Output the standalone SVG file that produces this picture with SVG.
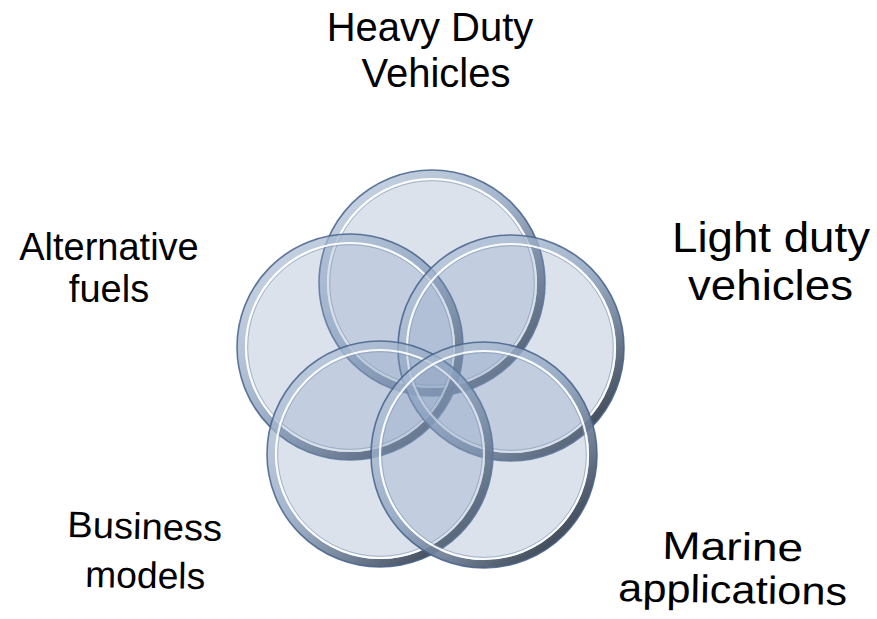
<svg xmlns="http://www.w3.org/2000/svg" width="877" height="619" viewBox="0 0 877 619">
<defs>
<linearGradient id="bevel" x1="0.15" y1="0.1" x2="0.85" y2="0.9">
<stop offset="0" stop-color="#b4c4d9" stop-opacity="0.6"/>
<stop offset="0.45" stop-color="#8ea4c0" stop-opacity="0.75"/>
<stop offset="0.75" stop-color="#66768c" stop-opacity="0.9"/>
<stop offset="1" stop-color="#38424f" stop-opacity="0.95"/>
</linearGradient>
<g id="ring">
<circle r="113" fill="#8aa2c2" fill-opacity="0.31"/>
<circle r="109" fill="none" stroke="url(#bevel)" stroke-width="8"/>
<circle r="113" fill="none" stroke="#46618a" stroke-width="1.6" stroke-opacity="0.85"/>
<circle r="104" fill="none" stroke="#ffffff" stroke-width="2.2" stroke-opacity="0.9"/>
<circle r="102.3" fill="none" stroke="#7d93b0" stroke-width="1" stroke-opacity="0.6"/>
</g>
</defs>
<style>
text{font-family:"Liberation Sans",Arial,sans-serif;fill:#000;}
</style>
<rect width="877" height="619" fill="#ffffff"/>
<g id="connectors"/>
<g id="node-heavy">
<use href="#ring" x="432" y="283"/>
<text x="430" y="41" font-size="40" text-anchor="middle">Heavy Duty</text>
<text x="436" y="87" font-size="40" text-anchor="middle">Vehicles</text>
</g>
<g id="node-alt">
<use href="#ring" x="350" y="347"/>
<text x="109" y="260" font-size="38" text-anchor="middle">Alternative</text>
<text x="109" y="302" font-size="38" text-anchor="middle">fuels</text>
</g>
<g id="node-light">
<use href="#ring" x="511" y="348"/>
<text x="672" y="252" font-size="42" textLength="198" lengthAdjust="spacingAndGlyphs">Light duty</text>
<text x="688" y="300" font-size="42" textLength="165" lengthAdjust="spacingAndGlyphs">vehicles</text>
</g>
<g id="node-business">
<use href="#ring" x="380" y="454"/>
<text x="67" y="539" font-size="37" transform="rotate(1.5 145 539)" textLength="155" lengthAdjust="spacingAndGlyphs">Business</text>
<text x="85" y="588" font-size="37" transform="rotate(1 145 588)" textLength="120" lengthAdjust="spacingAndGlyphs">models</text>
</g>
<g id="node-marine">
<use href="#ring" x="484" y="455"/>
<text x="662" y="560" font-size="39" transform="rotate(1 730 560)" textLength="141" lengthAdjust="spacingAndGlyphs">Marine</text>
<text x="618" y="603" font-size="39" transform="rotate(1 730 603)" textLength="229" lengthAdjust="spacingAndGlyphs">applications</text>
</g>
</svg>
